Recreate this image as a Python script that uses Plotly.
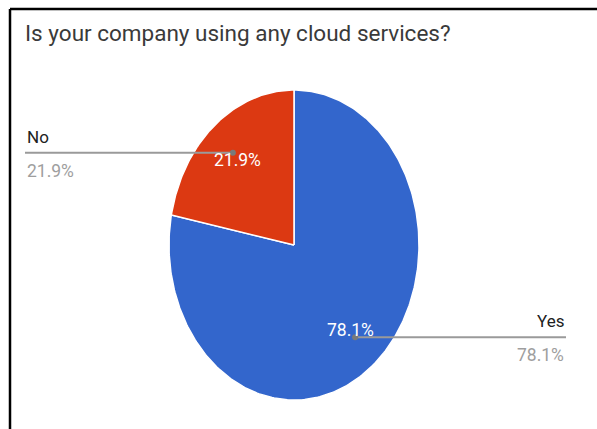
import numpy as np
import plotly.graph_objects as go

# Survey answers
labels = ["Yes", "No"]
values = [78.1, 21.9]
colors = ["#3366cc", "#dc3912"]
title_text = "Is your company using any cloud services?"

# Canvas and pie geometry (pixels)
W, H = 597, 429
cx_px, cy_px = 294, 245          # pie centre
rx_px, ry_px = 125, 155          # horizontal / vertical radius
left_px, right_px = 25, 566      # where the leader lines end

# Axis ranges so that the unit circle maps onto the pie ellipse
x_range = [-cx_px / rx_px, (W - cx_px) / rx_px]
y_range = [-(H - cy_px) / ry_px, cy_px / ry_px]
x_left = (left_px - cx_px) / rx_px
x_right = (right_px - cx_px) / rx_px

FONT = "Roboto, Arial, sans-serif"

fig = go.Figure()
annotations = []
leaders = []

total = sum(values)
start = 0.0  # angle measured clockwise from 12 o'clock
for lab, val, col in zip(labels, values, colors):
    frac = val / total
    end = start + frac * 2 * np.pi
    theta = np.linspace(start, end, max(int(frac * 360), 2) + 1)
    xs = np.concatenate([[0.0], np.sin(theta), [0.0]])
    ys = np.concatenate([[0.0], np.cos(theta), [0.0]])
    fig.add_trace(go.Scatter(
        x=xs, y=ys, mode="lines", fill="toself", fillcolor=col,
        line=dict(color="white", width=1.5),
        hoverinfo="text", hoveron="fills", text=f"{lab}: {val}%",
        showlegend=False,
    ))

    mid = (start + end) / 2
    sx, sy = np.sin(mid), np.cos(mid)

    # percentage inside the slice
    annotations.append(dict(
        x=0.71 * sx, y=0.71 * sy, xref="x", yref="y", text=f"{val}%",
        showarrow=False, font=dict(family=FONT, size=17.5, color="white"),
        xanchor="center", yanchor="middle",
    ))

    # horizontal leader line from the slice to the side label
    dot_x, dot_y = 0.77 * sx, 0.77 * sy
    side_x = x_left if sx < 0 else x_right
    anchor = "left" if sx < 0 else "right"
    leaders.append((dot_x, dot_y, side_x))

    annotations.append(dict(
        x=side_x, y=dot_y, xref="x", yref="y", text=lab, showarrow=False,
        font=dict(family=FONT, size=17, color="#212121"),
        xanchor=anchor, yanchor="middle", yshift=16,
    ))
    annotations.append(dict(
        x=side_x, y=dot_y, xref="x", yref="y", text=f"{val}%", showarrow=False,
        font=dict(family=FONT, size=17.5, color="#9e9e9e"),
        xanchor=anchor, yanchor="middle", yshift=-18,
    ))
    start = end

for dot_x, dot_y, side_x in leaders:
    fig.add_trace(go.Scatter(
        x=[side_x, dot_x], y=[dot_y, dot_y], mode="lines",
        line=dict(color="#9a9a9a", width=2), hoverinfo="skip", showlegend=False,
    ))
    fig.add_trace(go.Scatter(
        x=[dot_x], y=[dot_y], mode="markers",
        marker=dict(color="#7a7a7a", size=6), hoverinfo="skip", showlegend=False,
    ))

# chart title
annotations.append(dict(
    x=23 / W, y=1 - 33 / H, xref="paper", yref="paper", text=title_text,
    showarrow=False, font=dict(family=FONT, size=22.5, color="#3a3a3a"),
    xanchor="left", yanchor="middle",
))

fx = 10 / W
fy = 1 - 9 / H
fig.update_layout(
    width=W, height=H, autosize=False,
    margin=dict(l=0, r=0, t=0, b=0),
    paper_bgcolor="white", plot_bgcolor="white",
    xaxis=dict(range=x_range, visible=False, fixedrange=True),
    yaxis=dict(range=y_range, visible=False, fixedrange=True),
    annotations=annotations,
    shapes=[
        dict(type="line", xref="paper", yref="paper", x0=fx, y0=0, x1=fx, y1=fy,
             line=dict(color="black", width=2.5)),
        dict(type="line", xref="paper", yref="paper", x0=fx, y0=fy, x1=1, y1=fy,
             line=dict(color="black", width=2.5)),
    ],
    showlegend=False,
)

fig.write_html("out.html", config={"displayModeBar": False})
